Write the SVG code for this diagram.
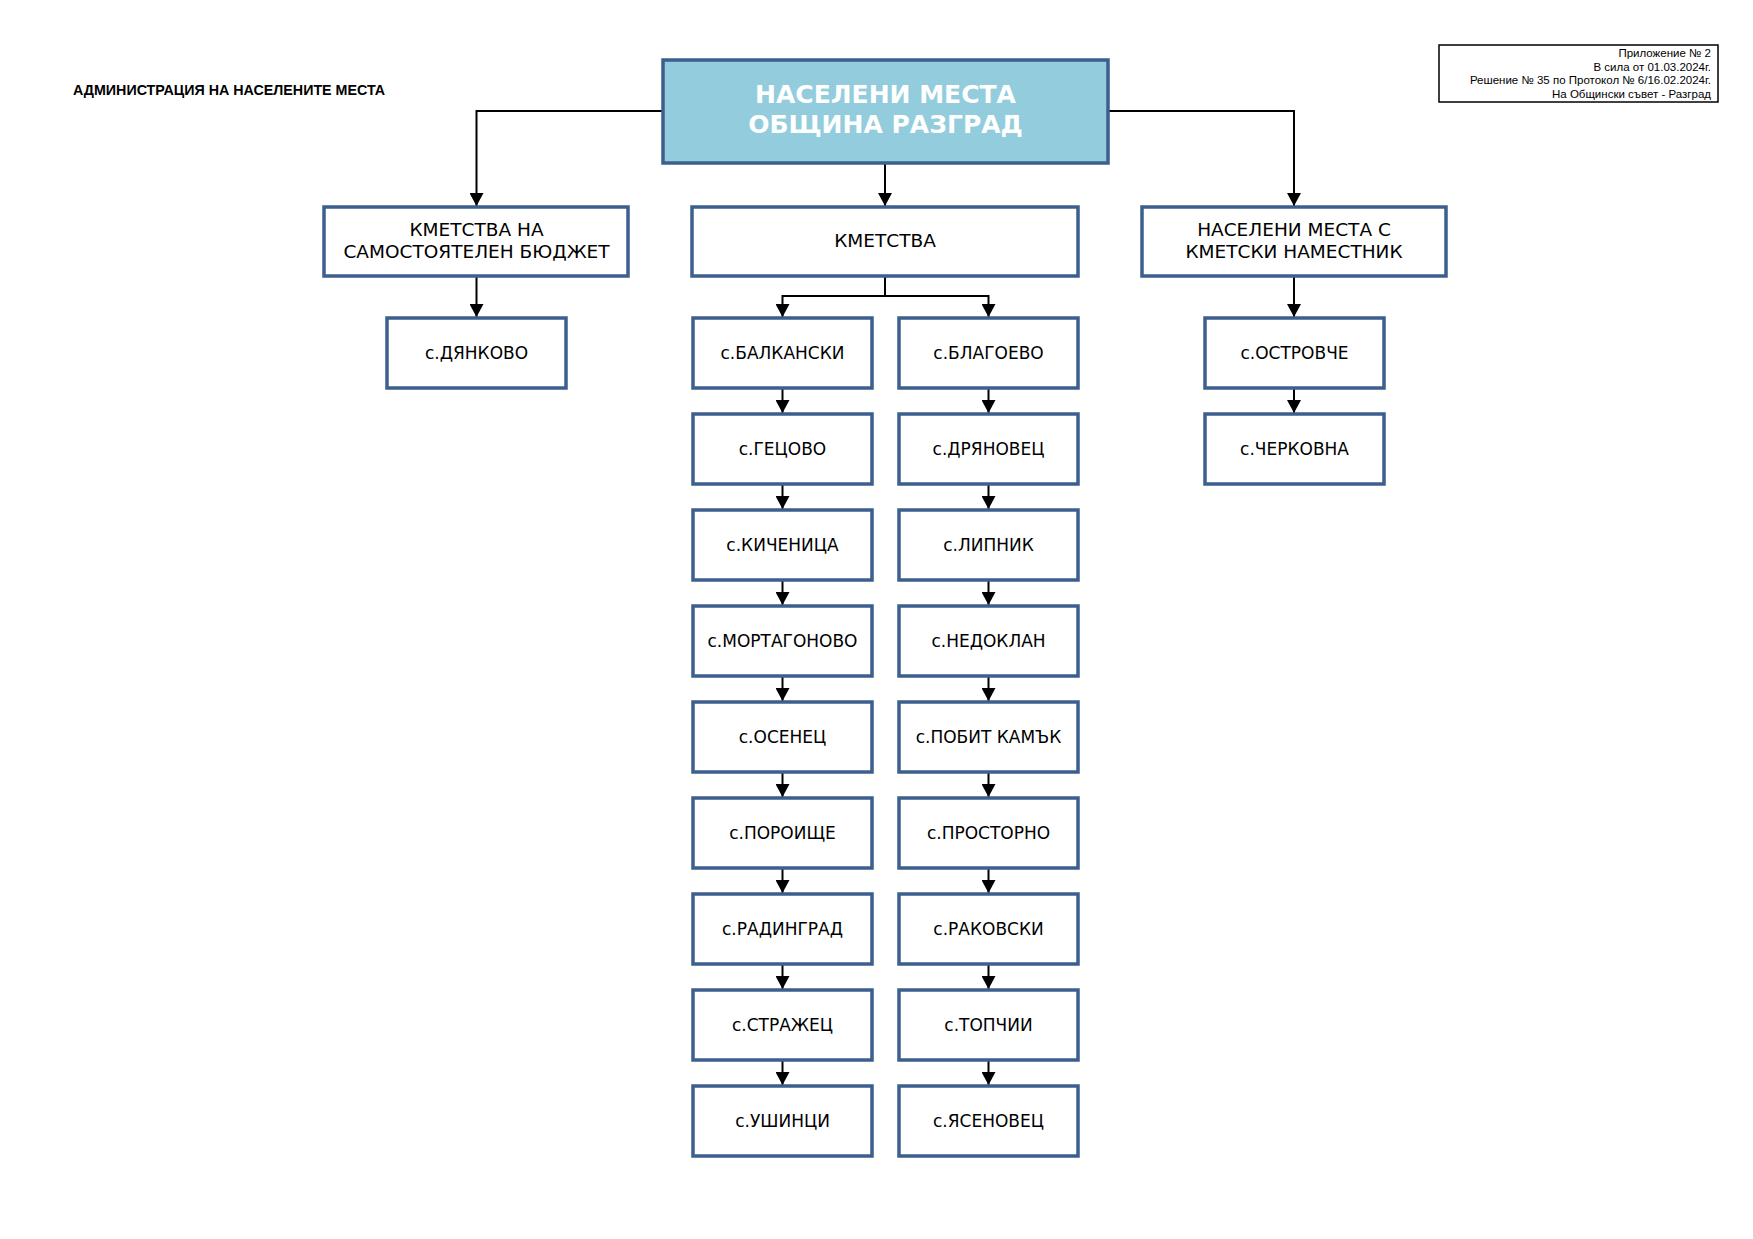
<svg xmlns="http://www.w3.org/2000/svg" width="1753" height="1239" viewBox="0 0 1753 1239">
<style>
.bx{fill:#fff;stroke:#3C5F8E;stroke-width:3.5}
.top{fill:#93CDDD;stroke:#3C5F8E;stroke-width:3.5}
.c{fill:none;stroke:#000;stroke-width:2}
.a{marker-end:url(#ah)}
.t{font-family:"DejaVu Sans",Verdana,sans-serif;font-size:17px;fill:#000;text-anchor:middle}
.h{font-family:"DejaVu Sans",Verdana,sans-serif;font-size:18.5px;fill:#000;text-anchor:middle}
.m{font-family:"DejaVu Sans",Verdana,sans-serif;font-size:25px;font-weight:bold;fill:#fff;text-anchor:middle}
.n{font-family:"Liberation Sans",Arial,sans-serif;font-size:11.5px;fill:#000;text-anchor:end}
</style>
<defs>
<marker id="ah" markerUnits="userSpaceOnUse" markerWidth="13" markerHeight="14" viewBox="0 0 13 14" refX="13" refY="7" orient="auto">
<path d="M0,0 L13,7 L0,14 z" fill="#000"/>
</marker>
</defs>
<rect width="1753" height="1239" fill="#fff"/>
<text x="73" y="95" font-family="Liberation Sans,Arial,sans-serif" font-size="15.5" font-weight="bold" textLength="312" lengthAdjust="spacingAndGlyphs">АДМИНИСТРАЦИЯ НА НАСЕЛЕНИТЕ МЕСТА</text>
<g id="note">
<rect x="1439" y="45" width="279" height="57" fill="#fff" stroke="#000" stroke-width="1.5"/>
<text class="n" x="1711" y="57">Приложение № 2</text>
<text class="n" x="1711" y="70.5">В сила от 01.03.2024г.</text>
<text class="n" x="1711" y="84">Решение № 35 по Протокол № 6/16.02.2024г.</text>
<text class="n" x="1711" y="97.5">На Общински съвет - Разград</text>
</g>
<g id="connectors">
<path class="c a" d="M663 111 H476.5 V206"/>
<path class="c a" d="M1108 111 H1294 V206"/>
<path class="c a" d="M885 163 V206"/>
<path class="c a" d="M476.5 276 V317"/>
<path class="c" d="M885 276 V296"/>
<path class="c a" d="M885 296 H782.5 V317"/>
<path class="c a" d="M885 296 H988.5 V317"/>
<path class="c a" d="M1294 276 V317"/>
<path class="c a" d="M1294 388 V413"/>
<path class="c a" d="M782.5 388 V413"/><path class="c a" d="M988.5 388 V413"/>
<path class="c a" d="M782.5 484 V509"/><path class="c a" d="M988.5 484 V509"/>
<path class="c a" d="M782.5 580 V605"/><path class="c a" d="M988.5 580 V605"/>
<path class="c a" d="M782.5 676 V701"/><path class="c a" d="M988.5 676 V701"/>
<path class="c a" d="M782.5 772 V797"/><path class="c a" d="M988.5 772 V797"/>
<path class="c a" d="M782.5 868 V893"/><path class="c a" d="M988.5 868 V893"/>
<path class="c a" d="M782.5 964 V989"/><path class="c a" d="M988.5 964 V989"/>
<path class="c a" d="M782.5 1060 V1085"/><path class="c a" d="M988.5 1060 V1085"/>
</g>
<g id="root"><rect class="top" x="663" y="60" width="445" height="103"/>
<text class="m" x="885.5" y="103">НАСЕЛЕНИ МЕСТА</text>
<text class="m" x="885.5" y="133">ОБЩИНА РАЗГРАД</text></g>
<g id="h-left"><rect class="bx" x="324" y="207" width="304" height="69"/>
<text class="h" x="476.5" y="236">КМЕТСТВА НА</text>
<text class="h" x="476.5" y="258">САМОСТОЯТЕЛЕН БЮДЖЕТ</text></g>
<g id="h-mid"><rect class="bx" x="692" y="207" width="386" height="69"/>
<text class="h" x="885" y="247">КМЕТСТВА</text></g>
<g id="h-right"><rect class="bx" x="1142" y="207" width="304" height="69"/>
<text class="h" x="1294" y="236">НАСЕЛЕНИ МЕСТА С</text>
<text class="h" x="1294" y="258">КМЕТСКИ НАМЕСТНИК</text></g>
<g id="dyankovo"><rect class="bx" x="387" y="318" width="179" height="70"/><text class="t" x="476.5" y="359">с.ДЯНКОВО</text></g>
<g id="ostrovche"><rect class="bx" x="1205" y="318" width="179" height="70"/><text class="t" x="1294.5" y="359">с.ОСТРОВЧЕ</text></g>
<g id="cherkovna"><rect class="bx" x="1205" y="414" width="179" height="70"/><text class="t" x="1294.5" y="455">с.ЧЕРКОВНА</text></g>
<g id="balkanski"><rect class="bx" x="693" y="318" width="179" height="70"/><text class="t" x="782.5" y="359">с.БАЛКАНСКИ</text></g>
<g id="getsovo"><rect class="bx" x="693" y="414" width="179" height="70"/><text class="t" x="782.5" y="455">с.ГЕЦОВО</text></g>
<g id="kichenitsa"><rect class="bx" x="693" y="510" width="179" height="70"/><text class="t" x="782.5" y="551">с.КИЧЕНИЦА</text></g>
<g id="mortagonovo"><rect class="bx" x="693" y="606" width="179" height="70"/><text class="t" x="782.5" y="647">с.МОРТАГОНОВО</text></g>
<g id="osenets"><rect class="bx" x="693" y="702" width="179" height="70"/><text class="t" x="782.5" y="743">с.ОСЕНЕЦ</text></g>
<g id="poroishte"><rect class="bx" x="693" y="798" width="179" height="70"/><text class="t" x="782.5" y="839">с.ПОРОИЩЕ</text></g>
<g id="radingrad"><rect class="bx" x="693" y="894" width="179" height="70"/><text class="t" x="782.5" y="935">с.РАДИНГРАД</text></g>
<g id="strazhets"><rect class="bx" x="693" y="990" width="179" height="70"/><text class="t" x="782.5" y="1031">с.СТРАЖЕЦ</text></g>
<g id="ushintsi"><rect class="bx" x="693" y="1086" width="179" height="70"/><text class="t" x="782.5" y="1127">с.УШИНЦИ</text></g>
<g id="blagoevo"><rect class="bx" x="899" y="318" width="179" height="70"/><text class="t" x="988.5" y="359">с.БЛАГОЕВО</text></g>
<g id="dryanovets"><rect class="bx" x="899" y="414" width="179" height="70"/><text class="t" x="988.5" y="455">с.ДРЯНОВЕЦ</text></g>
<g id="lipnik"><rect class="bx" x="899" y="510" width="179" height="70"/><text class="t" x="988.5" y="551">с.ЛИПНИК</text></g>
<g id="nedoklan"><rect class="bx" x="899" y="606" width="179" height="70"/><text class="t" x="988.5" y="647">с.НЕДОКЛАН</text></g>
<g id="pobit-kamak"><rect class="bx" x="899" y="702" width="179" height="70"/><text class="t" x="988.5" y="743">с.ПОБИТ КАМЪК</text></g>
<g id="prostorno"><rect class="bx" x="899" y="798" width="179" height="70"/><text class="t" x="988.5" y="839">с.ПРОСТОРНО</text></g>
<g id="rakovski"><rect class="bx" x="899" y="894" width="179" height="70"/><text class="t" x="988.5" y="935">с.РАКОВСКИ</text></g>
<g id="topchii"><rect class="bx" x="899" y="990" width="179" height="70"/><text class="t" x="988.5" y="1031">с.ТОПЧИИ</text></g>
<g id="yasenovets"><rect class="bx" x="899" y="1086" width="179" height="70"/><text class="t" x="988.5" y="1127">с.ЯСЕНОВЕЦ</text></g>
</svg>
